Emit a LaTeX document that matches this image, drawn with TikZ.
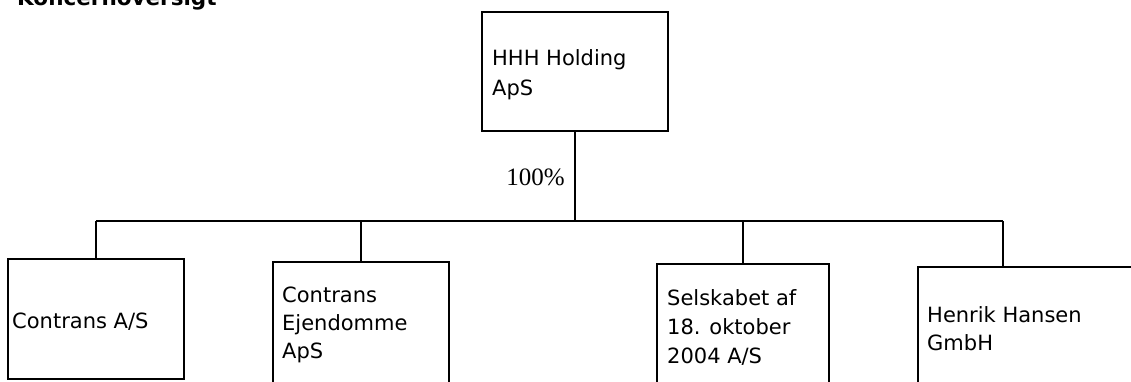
\documentclass[tikz,border=0pt]{standalone}
\usepackage{fontspec}
\setmainfont{DejaVu Sans}
\newfontfamily\numserif{Liberation Serif}
\begin{document}
\begin{tikzpicture}[x=1pt,y=-1pt,
  orgbox/.style={draw, line width=2pt, rectangle, inner sep=0pt, outer sep=0pt, anchor=north west},
  txt/.style={anchor=base west, inner sep=0pt, font=\fontsize{21}{24}\selectfont},
  link/.style={line width=2pt}]
\useasboundingbox (0,0) rectangle (1131,381);
% title (cut off at top)
\node[anchor=base west, inner sep=0pt, font=\fontsize{21.5}{24}\selectfont\bfseries] (title) at (17,5) {Koncernoversigt};
% boxes
\node[orgbox, minimum width=186pt, minimum height=119pt] (top) at (482,12) {};
\node[orgbox, minimum width=176pt, minimum height=120pt] (b1) at (8,259) {};
\node[orgbox, minimum width=176pt, minimum height=150pt] (b2) at (273,262) {};
\node[orgbox, minimum width=172pt, minimum height=150pt] (b3) at (657,264) {};
\node[orgbox, minimum width=240pt, minimum height=150pt] (b4) at (918,267) {};
% texts
\node[txt] (t1) at (492,65) {HHH Holding};
\node[txt] (t2) at (492,95) {ApS};
\node[txt] (c1) at (12,328) {Contrans A/S};
\node[txt] (e1) at (282,302) {Contrans};
\node[txt] (e2) at (282,330) {Ejendomme};
\node[txt] (e3) at (282,358) {ApS};
\node[txt] (s1) at (667,305) {Selskabet af};
\node[txt] (s2) at (667,334) {18. oktober};
\node[txt] (s3) at (667,363) {2004 A/S};
\node[txt] (h1) at (927,322) {Henrik Hansen};
\node[txt] (h2) at (927,350) {GmbH};
\node[anchor=base east, inner sep=0pt, font=\numserif\fontsize{25}{28}\selectfont] (pct) at (565,185) {100\%};
% connectors
\coordinate (bus) at (0,221);
\coordinate (d4) at (1003,267);
\draw[link] (top.south) -- (top.south |- bus);
\draw[link] (b1.north |- bus) -- (d4 |- bus);
\draw[link] (b1.north) -- (b1.north |- bus);
\draw[link] (b2.north) -- (b2.north |- bus);
\draw[link] (b3.north) -- (b3.north |- bus);
\draw[link] (d4) -- (d4 |- bus);
\end{tikzpicture}
\end{document}
